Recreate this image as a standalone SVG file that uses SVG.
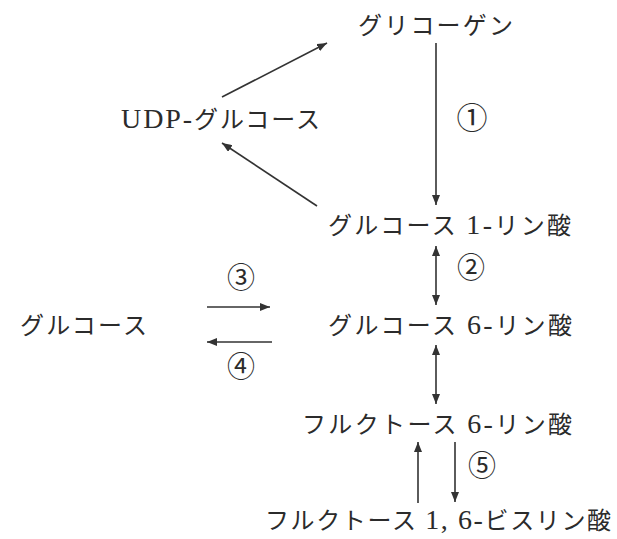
<svg xmlns="http://www.w3.org/2000/svg" width="617" height="539" viewBox="0 0 617 539">
<style>
.lbl{font-family:"Liberation Serif","Noto Sans CJK JP",serif;font-size:24px;fill:#2b2b2b}
.lat{font-size:28px}
.num{font-family:"Noto Sans CJK JP",sans-serif;font-size:28px;fill:#2b2b2b;text-anchor:middle}
.ln{stroke:#333;stroke-width:1.6;fill:none}
</style>
<defs>
<marker id="ah" viewBox="0 0 10 8" refX="10" refY="4" markerWidth="10" markerHeight="8" markerUnits="userSpaceOnUse" orient="auto-start-reverse">
<path d="M0,0 L10,4 L0,8 Z" fill="#333"/>
</marker>
</defs>
<rect width="617" height="539" fill="#ffffff"/>
<g id="glycogen"><text class="lbl" x="358" y="34" textLength="155" lengthAdjust="spacing">グリコーゲン</text></g>
<g id="udp-glucose"><text class="lbl" x="121" y="128" textLength="199" lengthAdjust="spacing"><tspan class="lat">UDP-</tspan>グルコース</text></g>
<g id="g1p"><text class="lbl" x="328" y="234" textLength="243" lengthAdjust="spacing">グルコース <tspan class="lat">1-</tspan>リン酸</text></g>
<g id="g6p"><text class="lbl" x="328" y="334" textLength="244" lengthAdjust="spacing">グルコース <tspan class="lat">6-</tspan>リン酸</text></g>
<g id="glucose"><text class="lbl" x="20" y="334" textLength="127" lengthAdjust="spacing">グルコース</text></g>
<g id="f6p"><text class="lbl" x="302" y="433" textLength="270" lengthAdjust="spacing">フルクトース <tspan class="lat">6-</tspan>リン酸</text></g>
<g id="f16bp"><text class="lbl" x="265" y="529" textLength="346" lengthAdjust="spacing">フルクトース <tspan class="lat">1, 6-</tspan>ビスリン酸</text></g>
<g id="labels">
<text class="num" x="472" y="129" style="font-size:31px">①</text>
<text class="num" x="471" y="278">②</text>
<text class="num" x="241" y="288">③</text>
<text class="num" x="241" y="377">④</text>
<text class="num" x="482" y="476">⑤</text>
</g>
<g id="connectors">
<line class="ln" x1="436" y1="43" x2="436" y2="205" marker-end="url(#ah)"/>
<line class="ln" x1="222" y1="97" x2="327" y2="43" marker-end="url(#ah)"/>
<line class="ln" x1="317" y1="206" x2="222" y2="143" marker-end="url(#ah)"/>
<line class="ln" x1="436" y1="246" x2="436" y2="305" marker-start="url(#ah)" marker-end="url(#ah)"/>
<line class="ln" x1="436" y1="345" x2="436" y2="404" marker-start="url(#ah)" marker-end="url(#ah)"/>
<line class="ln" x1="207" y1="307" x2="270" y2="307" marker-end="url(#ah)"/>
<line class="ln" x1="272" y1="342" x2="207" y2="342" marker-end="url(#ah)"/>
<line class="ln" x1="418" y1="503" x2="418" y2="442" marker-end="url(#ah)"/>
<line class="ln" x1="455" y1="442" x2="455" y2="502" marker-end="url(#ah)"/>
</g>
</svg>
